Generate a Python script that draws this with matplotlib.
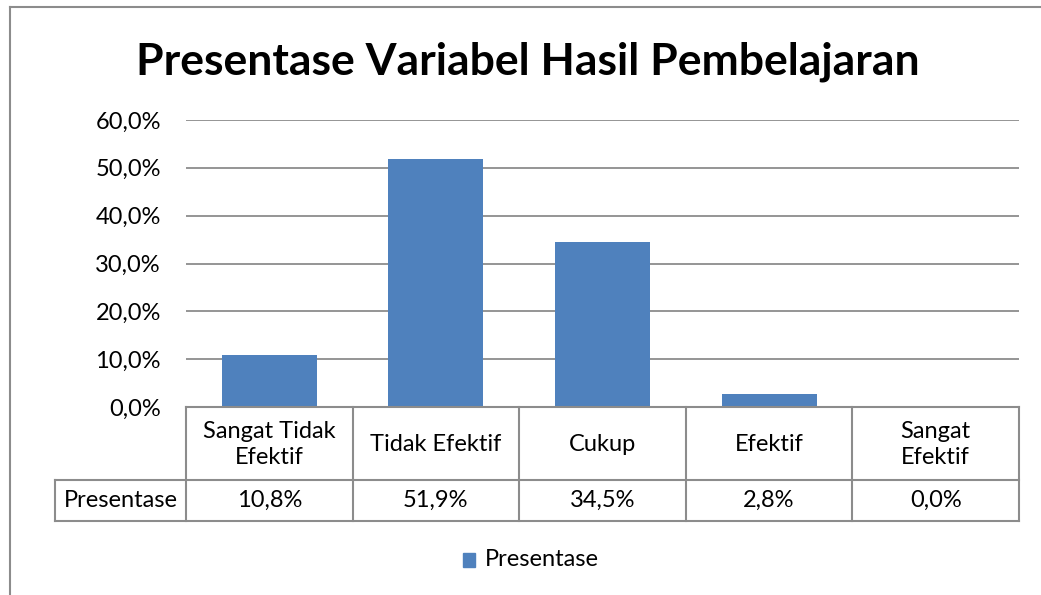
import matplotlib
matplotlib.use("Agg")
import matplotlib.pyplot as plt
from matplotlib.patches import Rectangle
from matplotlib.lines import Line2D

categories = ["Sangat Tidak\nEfektif", "Tidak Efektif", "Cukup", "Efektif", "Sangat\nEfektif"]
values = [10.8, 51.9, 34.5, 2.8, 0.0]
value_labels = ["10,8%", "51,9%", "34,5%", "2,8%", "0,0%"]
series_name = "Presentase"
yticks = [0, 10, 20, 30, 40, 50, 60]
ytick_labels = ["0,0%", "10,0%", "20,0%", "30,0%", "40,0%", "50,0%", "60,0%"]

FONT = "Lato"
FS = 17
W, H = 1041, 595
fig = plt.figure(figsize=(W / 100, H / 100), dpi=100)

def fx(px):
    return px / W

def fy(py):
    return 1 - py / H

# chart border (left and top visible)
fig.add_artist(Line2D([fx(10), fx(10)], [fy(7), fy(600)], color="#8c8c8c", lw=1.5))
fig.add_artist(Line2D([fx(10), fx(1045)], [fy(7), fy(7)], color="#8c8c8c", lw=1.5))

x0, x1, y0, y1 = 186, 1019, 407, 120
ax = fig.add_axes([fx(x0), fy(y0), fx(x1) - fx(x0), fy(y1) - fy(y0)])
n = len(categories)
xs = list(range(n))
ax.bar(xs, values, width=0.57, color="#4F81BD", zorder=3)
ax.set_xlim(-0.5, n - 0.5)
ax.set_ylim(0, 60)
ax.set_yticks(yticks)
ax.set_yticklabels(ytick_labels, fontsize=FS, family=FONT)
ax.tick_params(axis="y", length=0, pad=18)
ax.tick_params(axis="x", length=0, labelbottom=False)
ax.grid(axis="y", color="#8c8c8c", lw=1.3, zorder=0)
for s in ax.spines.values():
    s.set_visible(False)

# data table
grid_c = "#8c8c8c"
row_top, row_mid, row_bot = 407, 480, 521
left_cell = 55
cw = (x1 - x0) / n
def hline(xa, xb, y):
    fig.add_artist(Line2D([fx(xa), fx(xb)], [fy(y), fy(y)], color=grid_c, lw=1.5))
def vline(x, ya, yb):
    fig.add_artist(Line2D([fx(x), fx(x)], [fy(ya), fy(yb)], color=grid_c, lw=1.5))
hline(x0, x1, row_top)
hline(left_cell, x1, row_mid)
hline(left_cell, x1, row_bot)
vline(left_cell, row_mid, row_bot)
for i in range(n + 1):
    vline(x0 + i * cw, row_top, row_bot)
for i, (c, v) in enumerate(zip(categories, value_labels)):
    cx = x0 + (i + 0.5) * cw
    fig.text(fx(cx), fy((row_top + row_mid) / 2 + 1), c, ha="center", va="center",
             fontsize=FS, family=FONT, linespacing=1.32)
    fig.text(fx(cx), fy((row_mid + row_bot) / 2), v, ha="center", va="center",
             fontsize=FS, family=FONT)
fig.text(fx((left_cell + x0) / 2), fy((row_mid + row_bot) / 2), series_name,
         ha="center", va="center", fontsize=FS, family=FONT)

# legend
fig.add_artist(Rectangle((fx(463), fy(567)), fx(12), fy(553) - fy(567), color="#4F81BD"))
fig.text(fx(485), fy(560), series_name, ha="left", va="center", fontsize=FS, family=FONT)

# title
fig.text(fx(528), fy(62), "Presentase Variabel Hasil Pembelajaran", ha="center", va="center",
         fontsize=32, fontweight="bold", family=FONT)

fig.savefig("out.png", dpi=100)
